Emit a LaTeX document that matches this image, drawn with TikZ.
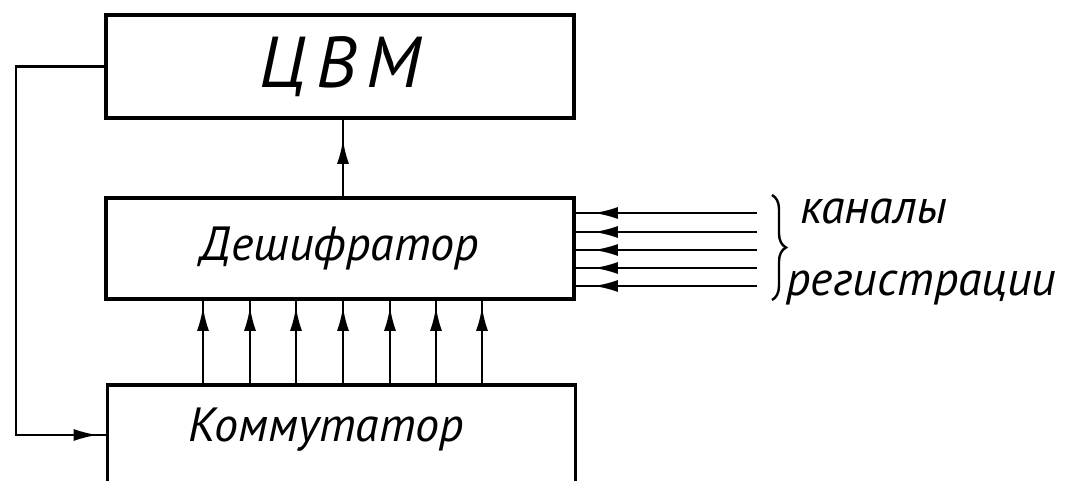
\documentclass[tikz,border=0pt]{standalone}
\usepackage{fontspec}
\setmainfont{PT Sans}
\usetikzlibrary{arrows.meta,decorations.markings,decorations.pathreplacing}

\tikzset{
  blok/.style={draw,line width=1.8pt,minimum width=234pt,inner sep=0pt},
  lbl/.style={font=\itshape\fontsize{24}{28}\selectfont},
  side/.style={font=\itshape\fontsize{24}{28}\selectfont,anchor=west,inner sep=0pt},
  conn/.style={line width=1.2pt},
  tipat/.style={postaction={decorate},decoration={markings,
      mark=at position #1 with {\arrow{Latex[length=12pt,width=6pt]}}}},
}

\begin{document}
\begin{tikzpicture}[x=0.5pt,y=-0.5pt]
  \useasboundingbox (0,0) rectangle (1072,481);
  \clip (0,0) rectangle (1072,481);
  % blocks
  \node[blok,minimum height=51.5pt,font=\itshape\fontsize{36}{40}\selectfont\addfontfeature{LetterSpace=14}] (cvm) at (340,66.5) {ЦВМ};
  \node[blok,minimum height=50.5pt,lbl] (dec) at (340,248.5) {Дешифратор};
  \node[blok,minimum height=70pt,anchor=north] (kom) at (341.5,383) {};
  \node[lbl] (komtxt) at (326,430) {Коммутатор};
  % feedback loop
  \coordinate (bend) at (16,435);
  \draw[conn,tipat=-4pt] (cvm.west) -| (bend) -- (bend -| kom.west);
  \draw[conn,tipat=-10pt] (dec.north -| 343,0) -- (cvm.south -| 343,0);
  \foreach \x in {203,250,296,343,390,436,482}
    \draw[conn,tipat=-3pt] (kom.north -| \x,0) -- (dec.south -| \x,0);
  % registration channels
  \foreach \y [count=\i] in {213,232,250,268,286} {
    \coordinate (ch\i) at (757,\y);
    \draw[conn,tipat=-9pt] (ch\i) -- (ch\i -| dec.east);
  }
  \coordinate (brtop) at (772,195);
  \coordinate (brbot) at (772,300);
  \draw[conn,decorate,decoration={brace,amplitude=7pt}] (brtop) -- (brbot);
  \node[side] (kan) at (800,211) {каналы};
  \node[side] (reg) at (786,288) {регистрации};
\end{tikzpicture}
\end{document}
